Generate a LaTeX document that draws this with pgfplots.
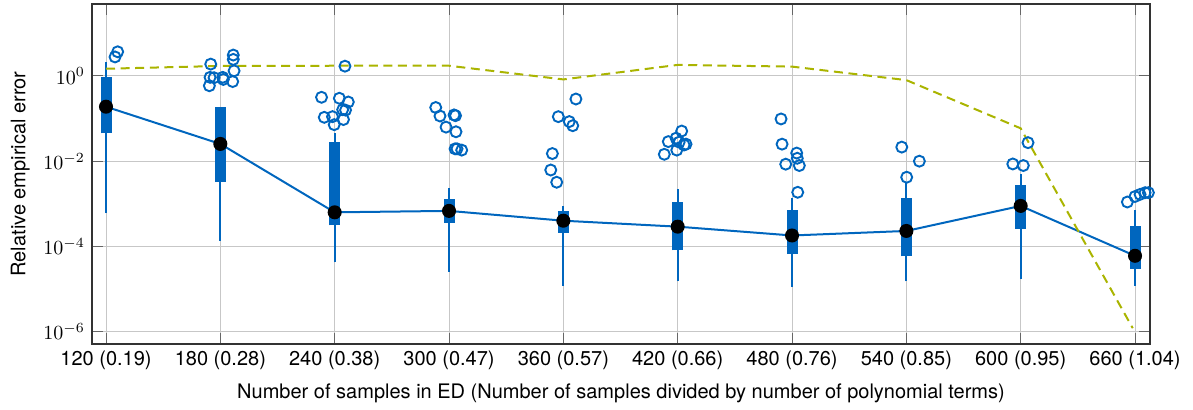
\documentclass[border=0pt]{standalone}
\usepackage{fontspec}
\setmainfont{TeX Gyre Heros}
\usepackage{pgfplots}
\pgfplotsset{compat=1.18}
\definecolor{bblue}{RGB}{0,102,190}
\definecolor{dgreen}{RGB}{170,180,0}
\begin{document}
\begin{tikzpicture}
\useasboundingbox (-46pt,-33pt) rectangle (550.5pt,172pt);
\begin{axis}[
  at={(0,0)}, anchor=south west,
  width=529pt, height=170pt, scale only axis,
  ymode=log,
  xmin=-0.1225, xmax=9.131, ymin=5.1e-7, ymax=49,
  xtick={0,...,9},
  xticklabels={120 (0.19),180 (0.28),240 (0.38),300 (0.47),360 (0.57),420 (0.66),480 (0.76),540 (0.85),600 (0.95),660 (1.04)},
  ytick={1e-6,1e-4,1e-2,1},
  yminorticks=false,
  grid=major, major grid style={black!22, line width=0.5pt},
  tick align=inside, major tick length=5.5pt,
  tick style={black!60, line width=0.5pt},
  axis line style={black!80, line width=0.6pt},
  xlabel={Number of samples in ED (Number of samples divided by number of polynomial terms)},
  ylabel={Relative empirical error},
  unbounded coords=jump,
]
% whiskers
\addplot[bblue, line width=1pt, line cap=butt] coordinates {
 (0,6e-4) (0,2.17) (0,nan)
 (1,1.36e-4) (1,0.184) (1,nan)
 (2,4.2e-5) (2,0.045) (2,nan)
 (3,2.5e-5) (3,2.4e-3) (3,nan)
 (4,1.2e-5) (4,8.9e-4) (4,nan)
 (5,1.5e-5) (5,2.2e-3) (5,nan)
 (6,1.1e-5) (6,1.4e-3) (6,nan)
 (7,1.5e-5) (7,3.1e-3) (7,nan)
 (8,1.7e-5) (8,5e-3) (8,nan)
 (9,1.2e-5) (9,7.2e-4)
};
% boxes
\addplot[bblue, line width=5.5pt, line cap=butt] coordinates {
 (0,0.045) (0,0.96) (0,nan)
 (1,0.0032) (1,0.184) (1,nan)
 (2,3.1e-4) (2,0.028) (2,nan)
 (3,3.6e-4) (3,1.28e-3) (3,nan)
 (4,2.1e-4) (4,6.8e-4) (4,nan)
 (5,8.1e-5) (5,1.1e-3) (5,nan)
 (6,6.6e-5) (6,7.2e-4) (6,nan)
 (7,5.8e-5) (7,1.4e-3) (7,nan)
 (8,2.6e-4) (8,2.8e-3) (8,nan)
 (9,3e-5) (9,3e-4)
};
% medians
\addplot[bblue, line width=1pt, mark=*, mark size=3pt, mark options={draw=black, fill=black}] coordinates {
 (0,0.19) (1,0.0254) (2,6.3e-4) (3,6.8e-4) (4,4e-4) (5,2.9e-4) (6,1.8e-4) (7,2.3e-4) (8,8.9e-4) (9,6e-5)
};
% outliers
\addplot[only marks, mark=o, mark size=2.75pt, bblue, line width=0.95pt] coordinates {
 (0.079,2.8) (0.102,3.7)
 (0.916,1.9) (0.910,0.93) (0.904,0.59) (0.945,0.91) (1.021,0.93) (1.026,0.83) (1.113,3.1) (1.113,2.45) (1.12,1.32) (1.108,0.74)
 (1.885,0.316) (2.041,0.30) (2.119,0.245) (1.909,0.107) (1.981,0.111) (1.996,0.072) (2.077,0.095) (2.095,0.158) (2.07,0.162) (2.09,1.7)
 (2.884,0.182) (2.921,0.115) (3.044,0.122) (3.057,0.117) (2.974,0.063) (3.061,0.049) (3.053,0.0195) (3.07,0.0195) (3.111,0.0182)
 (4.11,0.288) (3.956,0.111) (4.052,0.085) (4.082,0.068) (3.904,0.0151) (3.89,0.0062) (3.942,0.0032)
 (5.035,0.051) (4.918,0.0288) (4.986,0.0347) (5.073,0.0251) (4.992,0.0182) (4.883,0.0145) (5.013,0.028) (5.056,0.024)
 (5.904,0.098) (5.913,0.0251) (6.041,0.0155) (6.046,0.0117) (5.945,0.0085) (6.064,0.0079) (6.05,0.00186)
 (6.96,0.0214) (7.114,0.01) (7.003,0.0042)
 (8.064,0.0272) (7.931,0.0086) (8.023,0.0079)
 (8.933,0.0011) (9.0,0.00148) (9.044,0.00166) (9.088,0.00182) (9.117,0.00182)
};
% dashed reference
\addplot[dgreen, line width=1pt, dash pattern=on 4.5pt off 2.8pt] coordinates {
 (0,1.48) (1,1.72) (2,1.74) (3,1.74) (4,0.83) (5,1.82) (6,1.66) (7,0.8) (8,0.059) (8.98,1.2e-6)
};
\end{axis}
\end{tikzpicture}
\end{document}
